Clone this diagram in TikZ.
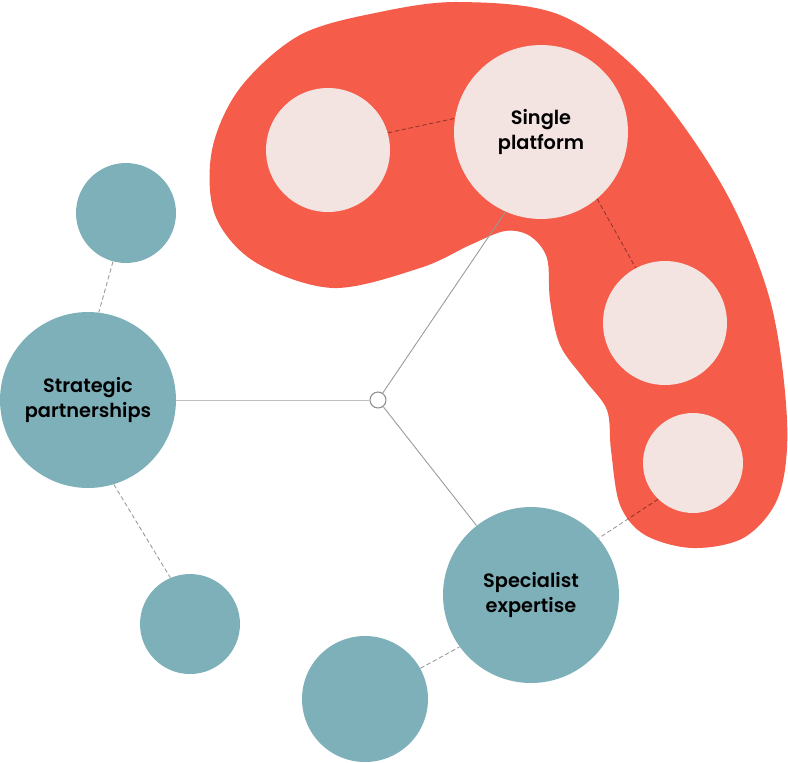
\documentclass[tikz,border=0pt]{standalone}
\usepackage{fontspec}
\setmainfont{Poppins}[BoldFont={Poppins SemiBold}]
\definecolor{tealdot}{RGB}{126,176,186}
\definecolor{coralblob}{RGB}{245,92,74}
\definecolor{blushdot}{RGB}{243,228,226}

\begin{document}
\begin{tikzpicture}[
  x=0.02cm,y=-0.02cm,
  dot/.style={circle,inner sep=0pt,align=center,font=\bfseries\fontsize{11}{14.5}\selectfont},
  teal-dot/.style={dot,fill=tealdot},
  blush-dot/.style={dot,fill=blushdot},
  spoke/.style={draw=black!40,line width=0.5pt},
  link/.style={draw=black,opacity=0.4,line width=0.5pt,dash pattern=on 2.5pt off 1.5pt}
]
  \useasboundingbox (0,0) rectangle (788,762);

  % red blob behind the platform group
  \fill[coralblob] plot[smooth cycle,tension=0.55] coordinates {
    (300,35) (380,12) (460,2) (560,15) (645,78) (723,187)
    (770,300) (787,420) (779,495) (745,537)
    (693,548) (645,535) (620,505) (611,450) (607,410) (585,380)
    (560,345) (550,300) (547,258) (530,236) (505,231) (470,245)
    (420,268) (333,288) (255,262) (215,215) (212,150) (240,88)};

  \node[blush-dot,minimum size=2.48cm] (platform-left) at (328,150) {};
  \node[blush-dot,minimum size=3.48cm] (single-platform) at (541,132) {Single\\platform};
  \node[blush-dot,minimum size=2.48cm] (platform-right) at (665,323) {};
  \node[blush-dot,minimum size=2cm] (platform-low) at (693,463) {};

  \node[teal-dot,minimum size=2cm] (partner-top) at (126,213) {};
  \node[teal-dot,minimum size=3.52cm] (strategic-partnerships) at (88,400) {Strategic\\partnerships};
  \node[teal-dot,minimum size=2cm] (partner-low) at (190,624) {};
  \node[teal-dot,minimum size=3.52cm] (specialist-expertise) at (531,595) {Specialist\\expertise};
  \node[teal-dot,minimum size=2.52cm] (expert-low) at (365,699) {};

  \node[circle,draw=black!45,fill=white,line width=0.6pt,minimum size=0.32cm,inner sep=0pt] (hub) at (378,400) {};

  \draw[spoke,draw=black!25] (hub) -- (strategic-partnerships);
  \draw[spoke] (hub) -- (single-platform.246);
  \draw[spoke] (hub) -- (specialist-expertise);

  \draw[link] (platform-left.16) -- (single-platform.171);
  \draw[link] (single-platform.-50) -- (platform-right.118);
  \draw[link] (platform-low.226) -- (specialist-expertise.40);
  \draw[link] (partner-top.255) -- (strategic-partnerships.83);
  \draw[link] (strategic-partnerships.-73) -- (partner-low.113);
  \draw[link] (expert-low.29) -- (specialist-expertise.216);
\end{tikzpicture}
\end{document}
